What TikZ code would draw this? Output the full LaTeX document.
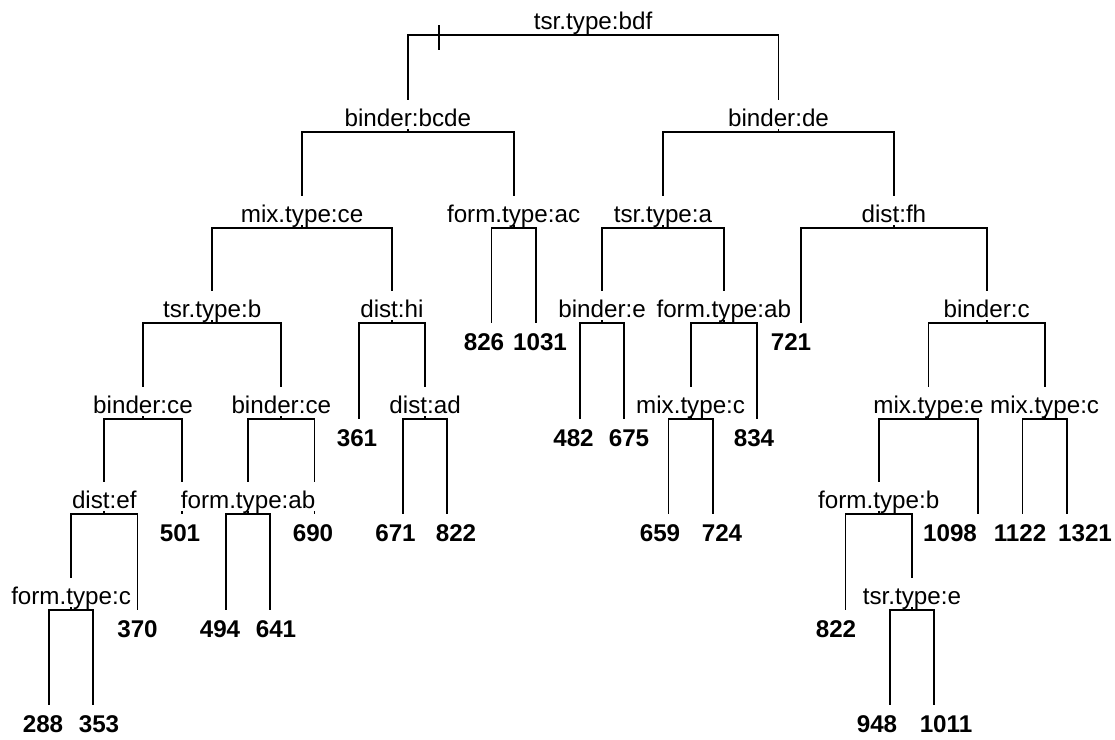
\documentclass[tikz,border=0pt]{standalone}
\usepackage{fontspec}
\setmainfont{Liberation Sans}
\begin{document}
\begin{tikzpicture}[x=1pt,y=-1pt,
  branch/.style={line width=1.8pt, line join=miter},
  split/.style={anchor=base, fill=white, inner xsep=1pt, inner ysep=0pt,
    text height=26pt, text depth=3pt, font=\fontsize{24.2}{29}\selectfont},
  leaf/.style={anchor=base, inner sep=0pt, font=\fontsize{24.2}{29}\selectfont\bfseries},
  tickmark/.style={line width=2.6pt}]
\useasboundingbox (0,0) rectangle (1115,739);
% node points (x, bar level)
\coordinate (r)   at (593.1,35);
\coordinate (bA)  at (407.8,132);
\coordinate (bB)  at (778.5,132);
\coordinate (mA)  at (302.05,228);
\coordinate (fA)  at (513.6,228);
\coordinate (tA)  at (663,228);
\coordinate (dA)  at (893.9,228);
\coordinate (tB)  at (212.2,323);
\coordinate (dB)  at (391.9,323);
\coordinate (l10) at (491.5,323);
\coordinate (l11) at (535.75,323);
\coordinate (bC)  at (602.1,323);
\coordinate (fB)  at (723.8,323);
\coordinate (l17) at (801.25,323);
\coordinate (bD)  at (986.6,323);
\coordinate (bE)  at (143.0,419);
\coordinate (bF)  at (281.3,419);
\coordinate (l7)  at (358.75,419);
\coordinate (dC)  at (425.1,419);
\coordinate (l12) at (580,419);
\coordinate (l13) at (624.25,419);
\coordinate (mB)  at (690.6,419);
\coordinate (l16) at (757,419);
\coordinate (mC)  at (928.5,419);
\coordinate (mD)  at (1044.6,419);
\coordinate (dD)  at (104.3,514);
\coordinate (l3)  at (181.75,514);
\coordinate (fC)  at (248.1,514);
\coordinate (l6)  at (314.5,514);
\coordinate (l8)  at (403,514);
\coordinate (l9)  at (447.25,514);
\coordinate (l14) at (668.5,514);
\coordinate (l15) at (712.75,514);
\coordinate (fD)  at (878.7,514);
\coordinate (l21) at (978.25,514);
\coordinate (l22) at (1022.5,514);
\coordinate (l23) at (1066.75,514);
\coordinate (fE)  at (71.1,610);
\coordinate (l2)  at (137.5,610);
\coordinate (l4)  at (226,610);
\coordinate (l5)  at (270.25,610);
\coordinate (l18) at (845.5,610);
\coordinate (tC)  at (911.9,610);
\coordinate (l0)  at (49,705);
\coordinate (l1)  at (93.25,705);
\coordinate (l19) at (889.75,705);
\coordinate (l20) at (934,705);
\coordinate (tk1) at (439,25);
\coordinate (tk2) at (439,50);
% branches
\draw[branch] (r) -| (bA);  \draw[branch] (r) -| (bB);
\draw[branch] (bA) -| (mA); \draw[branch] (bA) -| (fA);
\draw[branch] (bB) -| (tA); \draw[branch] (bB) -| (dA);
\draw[branch] (mA) -| (tB); \draw[branch] (mA) -| (dB);
\draw[branch] (fA) -| (l10); \draw[branch] (fA) -| (l11);
\draw[branch] (tA) -| (bC); \draw[branch] (tA) -| (fB);
\draw[branch] (dA) -| (l17); \draw[branch] (dA) -| (bD);
\draw[branch] (tB) -| (bE); \draw[branch] (tB) -| (bF);
\draw[branch] (dB) -| (l7); \draw[branch] (dB) -| (dC);
\draw[branch] (bC) -| (l12); \draw[branch] (bC) -| (l13);
\draw[branch] (fB) -| (mB); \draw[branch] (fB) -| (l16);
\draw[branch] (bD) -| (mC); \draw[branch] (bD) -| (mD);
\draw[branch] (bE) -| (dD); \draw[branch] (bE) -| (l3);
\draw[branch] (bF) -| (fC); \draw[branch] (bF) -| (l6);
\draw[branch] (dC) -| (l8); \draw[branch] (dC) -| (l9);
\draw[branch] (mB) -| (l14); \draw[branch] (mB) -| (l15);
\draw[branch] (mC) -| (fD); \draw[branch] (mC) -| (l21);
\draw[branch] (mD) -| (l22); \draw[branch] (mD) -| (l23);
\draw[branch] (dD) -| (fE); \draw[branch] (dD) -| (l2);
\draw[branch] (fC) -| (l4); \draw[branch] (fC) -| (l5);
\draw[branch] (fD) -| (l18); \draw[branch] (fD) -| (tC);
\draw[branch] (fE) -| (l0); \draw[branch] (fE) -| (l1);
\draw[branch] (tC) -| (l19); \draw[branch] (tC) -| (l20);
\draw[tickmark] (tk1) -- (tk2);
% split labels
\node[split] (Lr)  at ([yshift=6pt]r)  {tsr.type:bdf};
\node[split] (LbA) at ([yshift=6pt]bA) {binder:bcde};
\node[split] (LbB) at ([yshift=6pt]bB) {binder:de};
\node[split] (LmA) at ([yshift=6pt]mA) {mix.type:ce};
\node[split] (LfA) at ([yshift=6pt]fA) {form.type:ac};
\node[split] (LtA) at ([yshift=6pt]tA) {tsr.type:a};
\node[split] (LdA) at ([yshift=6pt]dA) {dist:fh};
\node[split] (LtB) at ([yshift=6pt]tB) {tsr.type:b};
\node[split] (LdB) at ([yshift=6pt]dB) {dist:hi};
\node[split] (LbC) at ([yshift=6pt]bC) {binder:e};
\node[split] (LfB) at ([yshift=6pt]fB) {form.type:ab};
\node[split] (LbD) at ([yshift=6pt]bD) {binder:c};
\node[split] (LbE) at ([yshift=6pt]bE) {binder:ce};
\node[split] (LbF) at ([yshift=6pt]bF) {binder:ce};
\node[split] (LdC) at ([yshift=6pt]dC) {dist:ad};
\node[split] (LmB) at ([yshift=6pt]mB) {mix.type:c};
\node[split] (LmC) at ([yshift=6pt]mC) {mix.type:e};
\node[split] (LmD) at ([yshift=6pt]mD) {mix.type:c};
\node[split] (LdD) at ([yshift=6pt]dD) {dist:ef};
\node[split] (LfC) at ([yshift=6pt]fC) {form.type:ab};
\node[split] (LfD) at ([yshift=6pt]fD) {form.type:b};
\node[split] (LfE) at ([yshift=6pt]fE) {form.type:c};
\node[split] (LtC) at ([yshift=6pt]tC) {tsr.type:e};
% leaf labels
\node[leaf] (N0)  at ([xshift=-6pt,yshift=-27pt]l0)  {288};
\node[leaf] (N1)  at ([xshift=5.75pt,yshift=-27pt]l1)  {353};
\node[leaf] (N2)  at ([xshift=0pt,yshift=-27pt]l2)  {370};
\node[leaf] (N3)  at ([xshift=-1.75pt,yshift=-27pt]l3)  {501};
\node[leaf] (N4)  at ([xshift=-6pt,yshift=-27pt]l4)  {494};
\node[leaf] (N5)  at ([xshift=5.75pt,yshift=-27pt]l5)  {641};
\node[leaf] (N6)  at ([xshift=-1.5pt,yshift=-27pt]l6)  {690};
\node[leaf] (N7)  at ([xshift=-1.75pt,yshift=-27pt]l7)  {361};
\node[leaf] (N8)  at ([xshift=-7.5pt,yshift=-27pt]l8)  {671};
\node[leaf] (N9)  at ([xshift=8.75pt,yshift=-27pt]l9)  {822};
\node[leaf] (N10) at ([xshift=-7.5pt,yshift=-27pt]l10) {826};
\node[leaf] (N11) at ([xshift=4.25pt,yshift=-27pt]l11) {1031};
\node[leaf] (N12) at ([xshift=-6.5pt,yshift=-27pt]l12) {482};
\node[leaf] (N13) at ([xshift=4.75pt,yshift=-27pt]l13) {675};
\node[leaf] (N14) at ([xshift=-8.5pt,yshift=-27pt]l14) {659};
\node[leaf] (N15) at ([xshift=9.25pt,yshift=-27pt]l15) {724};
\node[leaf] (N16) at ([xshift=-3pt,yshift=-27pt]l16) {834};
\node[leaf] (N17) at ([xshift=-10.25pt,yshift=-27pt]l17) {721};
\node[leaf] (N18) at ([xshift=-9.5pt,yshift=-27pt]l18) {822};
\node[leaf] (N19) at ([xshift=-12.75pt,yshift=-27pt]l19) {948};
\node[leaf] (N20) at ([xshift=12pt,yshift=-27pt]l20) {1011};
\node[leaf] (N21) at ([xshift=-28.25pt,yshift=-27pt]l21) {1098};
\node[leaf] (N22) at ([xshift=-2.5pt,yshift=-27pt]l22) {1122};
\node[leaf] (N23) at ([xshift=18.25pt,yshift=-27pt]l23) {1321};
\end{tikzpicture}
\end{document}
